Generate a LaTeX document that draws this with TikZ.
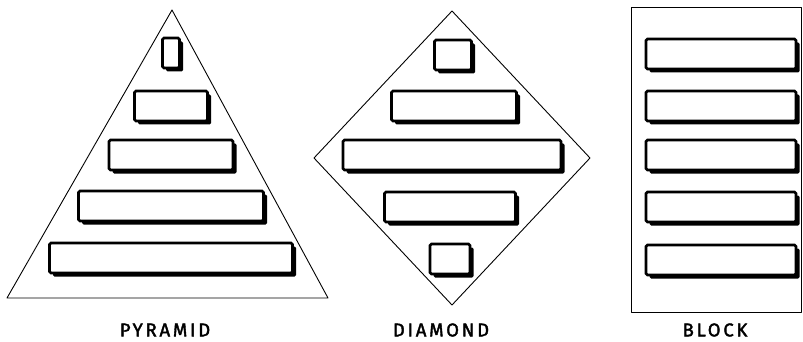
\documentclass[tikz,border=0pt]{standalone}
\usepackage{fontspec}
\newfontfamily\labelfont[LetterSpace=15, FakeBold=2]{Fira Sans}
\usetikzlibrary{positioning,shadows}

\tikzset{
  bar/.style={draw, line width=2.6pt, fill=white, rounded corners=1.5pt, inner sep=0pt,
    minimum height=30pt,
    drop shadow={shadow xshift=3.5pt, shadow yshift=-3.5pt, fill=black, opacity=1}},
  outline/.style={line width=0.9pt, line join=round},
  caption/.style={font=\labelfont\fontsize{18.5}{18.5}\selectfont, inner sep=0pt}
}

\begin{document}
\begin{tikzpicture}[x=1pt, y=-1pt]
\useasboundingbox (0,0) rectangle (803,342);

% pyramid
\draw[outline] (172,10) coordinate (ptop) -- (328,298) coordinate (pright)
  -- (7,298) coordinate (pleft) -- cycle;
\foreach \w/\y [count=\i] in {17/53, 73/106, 124/155, 185/206, 243/258}
  \node[bar, minimum width=\w pt] (p\i) at (171,\y) {};
\node[caption] (pyrlabel) at (165,330) {PYRAMID};

% diamond
\draw[outline] (452,11) coordinate (dtop) -- (590,158) coordinate (dright)
  -- (452,305) coordinate (dbottom) -- (314,158) coordinate (dleft) -- cycle;
\foreach \x/\w/\y [count=\i] in {453/37/55, 454/125/106, 452/218/155, 450/131/207, 450/40/259}
  \node[bar, minimum width=\w pt] (d\i) at (\x,\y) {};
\node[caption] (dialabel) at (441,330) {DIAMOND};

% block
\draw[outline] (631,7) rectangle (801,312);
\foreach \y [count=\i] in {54, 106, 155, 207, 260}
  \node[bar, minimum width=150pt] (b\i) at (721,\y) {};
\node[caption] (blklabel) at (715,330) {BLOCK};
\end{tikzpicture}
\end{document}
